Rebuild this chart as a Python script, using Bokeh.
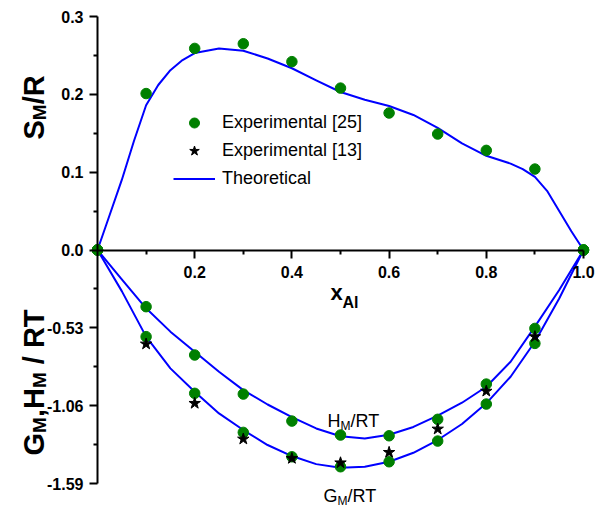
from math import pi

from bokeh.plotting import figure
from bokeh.models import (FixedTicker, CustomJSTickFormatter, Label, Legend, LegendItem)
from bokeh.embed import file_html
from bokeh.resources import INLINE

# ---------------- data ----------------
# mole fraction of Al
x_exp = [0.0, 0.1, 0.2, 0.3, 0.4, 0.5, 0.6, 0.7, 0.8, 0.9, 1.0]

# excess entropy S_M/R, experimental [25]
s_exp25 = [0.0, 0.201, 0.259, 0.265, 0.242, 0.208, 0.176, 0.149, 0.128, 0.104, 0.0]
# enthalpy H_M/RT and Gibbs energy G_M/RT, experimental [25]
h_exp25 = [0.0, -0.386, -0.715, -0.981, -1.165, -1.260, -1.265, -1.153, -0.913, -0.534, 0.0]
g_exp25 = [0.0, -0.590, -0.976, -1.242, -1.408, -1.476, -1.442, -1.301, -1.049, -0.636, 0.0]

# G_M/RT, experimental [13]
x_exp13 = [0.1, 0.2, 0.3, 0.4, 0.5, 0.6, 0.7, 0.8, 0.9]
g_exp13 = [-0.640, -1.044, -1.287, -1.419, -1.449, -1.378, -1.219, -0.961, -0.590]

# theoretical S_M/R
x_theory_s = [0.0, 0.025, 0.05, 0.075, 0.1, 0.125, 0.15, 0.175, 0.2, 0.25, 0.3, 0.35,
              0.4, 0.45, 0.5, 0.55, 0.6, 0.65, 0.7, 0.75, 0.8, 0.85, 0.875, 0.9,
              0.925, 0.95, 0.975, 1.0]
s_theory = [0.0, 0.045, 0.090, 0.140, 0.186, 0.212, 0.231, 0.244, 0.253, 0.259, 0.256, 0.246,
            0.2335, 0.218, 0.203, 0.193, 0.185, 0.1735, 0.157, 0.137, 0.121, 0.111, 0.104, 0.094,
            0.076, 0.050, 0.024, 0.0]

# theoretical H_M/RT and G_M/RT
x_theory_gh = [0.0, 0.05, 0.1, 0.15, 0.2, 0.25, 0.3, 0.35, 0.4, 0.45, 0.5,
               0.55, 0.6, 0.65, 0.7, 0.75, 0.8, 0.85, 0.9, 0.95, 1.0]
h_theory = [0.0, -0.200, -0.397, -0.556, -0.693, -0.829, -0.954, -1.052, -1.138, -1.215, -1.268,
            -1.283, -1.258, -1.205, -1.128, -1.040, -0.931, -0.761, -0.522, -0.272, 0.0]
g_theory = [0.0, -0.280, -0.590, -0.806, -0.965, -1.113, -1.226, -1.328, -1.403, -1.458, -1.483,
            -1.476, -1.442, -1.381, -1.294, -1.185, -1.044, -0.863, -0.625, -0.330, 0.0]

# axis ticks
x_major_ticks = [0.2, 0.4, 0.6, 0.8, 1.0]
x_minor_ticks = [0.1, 0.3, 0.5, 0.7, 0.9]
y_upper_ticks = [0.0, 0.1, 0.2, 0.3]
y_lower_ticks = [-0.53, -1.06, -1.59]

# The lower half (G, H) uses a compressed scale: one major step is 0.53 there, 0.1 above.
LOWER_SCALE = 5.3


def lower(vals):
    return [v / LOWER_SCALE for v in vals]


GREEN = "#008000"
BLUE = "#0000ff"
FONT = "Liberation Sans"

# The frame fills the whole canvas; both axes are pinned at zero inside it.
W, H = 604, 506
AX_LEFT_PX, AX_RIGHT_PX = 97.0, 583.0      # x = 0 and x = 1
AX_TOP_PX, AX_BOTTOM_PX = 16.0, 483.0      # plot y = 0.3 and -0.3
PX_X = (AX_RIGHT_PX - AX_LEFT_PX) / 1.0
PX_Y = (AX_BOTTOM_PX - AX_TOP_PX) / 0.6
ZERO_PX = (AX_TOP_PX + AX_BOTTOM_PX) / 2


def dx(px):
    return (px - AX_LEFT_PX) / PX_X


def dy(py):
    return (ZERO_PX - py) / PX_Y


p = figure(width=W, height=H, x_range=(dx(0), dx(W)), y_range=(dy(H), dy(0)),
           output_backend="svg", toolbar_location=None, min_border=0)
p.outline_line_color = None
p.xgrid.visible = False
p.ygrid.visible = False
p.background_fill_color = "white"
p.border_fill_color = "white"

# ---- axes ----
xax = p.xaxis[0]
xax.fixed_location = 0
xax.bounds = (0, 1)
xax.ticker = FixedTicker(ticks=x_major_ticks, minor_ticks=x_minor_ticks)
xax.formatter = CustomJSTickFormatter(code="return tick.toFixed(1);")

yax = p.yaxis[0]
yax.fixed_location = 0
yax.bounds = (-0.3, 0.3)
y_minor = [(a + b) / 2 for a, b in zip(y_upper_ticks[:-1], y_upper_ticks[1:])]
y_lower_plot = lower(y_lower_ticks)
y_minor += [(a + b) / 2 for a, b in zip([0.0] + y_lower_plot[:-1], y_lower_plot)]
yax.ticker = FixedTicker(ticks=y_upper_ticks + y_lower_plot, minor_ticks=y_minor)
yax.formatter = CustomJSTickFormatter(
    args=dict(scale=LOWER_SCALE),
    code="return tick >= -1e-9 ? tick.toFixed(1) : (tick * scale).toFixed(2);")

for ax in (xax, yax):
    ax.axis_line_width = 2
    ax.major_tick_line_width = 2
    ax.minor_tick_line_width = 2
    ax.major_tick_in = 0
    ax.major_tick_out = 8
    ax.minor_tick_in = 0
    ax.minor_tick_out = 4
    ax.major_label_text_font = FONT
    ax.major_label_text_font_style = "bold"
    ax.major_label_text_font_size = "16px"
    ax.major_label_text_color = "black"
xax.major_label_standoff = 8
yax.major_label_standoff = 6

# ---- curves ----
r_theory = p.line(x_theory_s, s_theory, line_color=BLUE, line_width=2, line_join="round")
p.line(x_theory_gh, lower(h_theory), line_color=BLUE, line_width=2, line_join="round")
p.line(x_theory_gh, lower(g_theory), line_color=BLUE, line_width=2, line_join="round")

r_exp25 = p.scatter(x_exp, s_exp25, marker="circle", size=10.5,
                    fill_color=GREEN, line_color=GREEN)
p.scatter(x_exp, lower(h_exp25), marker="circle", size=10.5, fill_color=GREEN, line_color=GREEN)
p.scatter(x_exp, lower(g_exp25), marker="circle", size=10.5, fill_color=GREEN, line_color=GREEN)
r_exp13 = p.scatter(x_exp13, lower(g_exp13), marker="star", size=12,
                    fill_color="black", line_color="black")

# ---- legend (location: bottom-left corner, pixels from the canvas bottom-left) ----
legend = Legend(items=[LegendItem(label="Experimental [25]", renderers=[r_exp25]),
                       LegendItem(label="Experimental [13]", renderers=[r_exp13]),
                       LegendItem(label="Theoretical", renderers=[r_theory])],
                location=(173, H - 191), padding=0, margin=0, spacing=3,
                glyph_width=42, glyph_height=25, label_height=25, label_standoff=7,
                border_line_color=None, background_fill_alpha=0,
                label_text_font=FONT, label_text_font_size="18px",
                label_text_color="black")
p.add_layout(legend)


def add_text(px, py, text, size, bold=False, angle=0.0):
    p.add_layout(Label(x=dx(px), y=dy(py), text=text, angle=angle,
                       text_font=FONT, text_font_size=f"{size}px",
                       text_font_style="bold" if bold else "normal",
                       text_color="black", text_align="left",
                       text_baseline="alphabetic"))


# x axis title: x_Al
add_text(330, 292, "x", 22, bold=True)
add_text(342, 302, "Al", 16, bold=True)

# curve labels
add_text(327, 420, "H", 18)
add_text(340, 425, "M", 12)
add_text(350, 420, "/RT", 18)
add_text(323, 495, "G", 18)
add_text(337, 500, "M", 12)
add_text(347, 495, "/RT", 18)

# rotated y titles, built upward from the bottom of each text run
MAIN, SUB = 29, 19
BASE_X, SUB_X = 33, 39
SPACE = 0.278 * MAIN


def vertical_title(start_py, pieces):
    py = start_py
    for text, is_sub, length in pieces:
        if text:
            add_text(SUB_X if is_sub else BASE_X, py, text,
                     SUB if is_sub else MAIN, bold=True, angle=pi / 2)
        py -= length


vertical_title(139, [("S", False, 0.667 * MAIN), ("M", True, 0.833 * SUB),
                     ("/R", False, 1.0 * MAIN)])
vertical_title(455, [("G", False, 0.778 * MAIN), ("M", True, 0.833 * SUB),
                     (",H", False, 1.0 * MAIN), ("M", True, 0.833 * SUB),
                     ("", False, SPACE), ("/", False, 0.278 * MAIN + SPACE),
                     ("RT", False, 1.333 * MAIN)])

open("out.html", "w").write(file_html(p, INLINE))
